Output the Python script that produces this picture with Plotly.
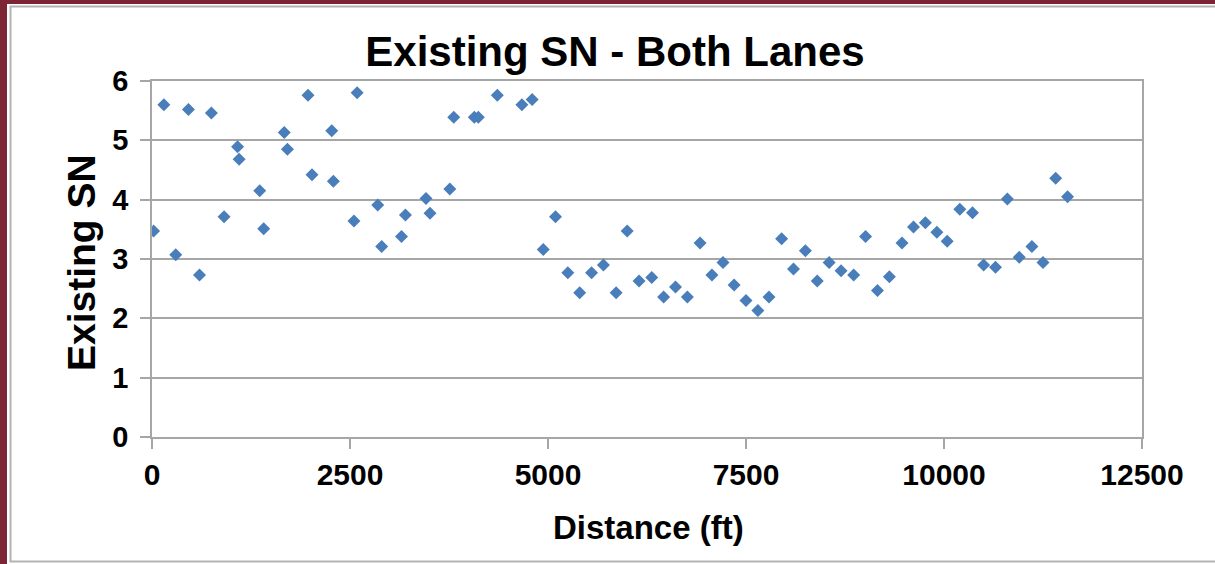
import plotly.graph_objects as go

# Distance (ft) and Existing SN values
distance_ft = [
    20, 150, 300, 460, 600, 750, 910, 1080, 1100, 1360, 1410, 1670, 1710,
    1970, 2020, 2270, 2290, 2550, 2590, 2850, 2900, 3150, 3200, 3460, 3510,
    3760, 3810, 4070, 4120, 4360, 4670, 4800, 4940, 5095,
    5250, 5400, 5550, 5700, 5860, 6000, 6150, 6310, 6460, 6610, 6760, 6920,
    7070, 7210, 7350, 7500, 7650, 7790, 7950, 8100, 8250, 8400, 8550, 8700,
    8860, 9010, 9160, 9310, 9470, 9615, 9765, 9910, 10040, 10200, 10360,
    10500, 10650, 10800, 10950, 11110, 11250, 11410, 11560,
]
existing_sn = [
    3.47, 5.60, 3.07, 5.52, 2.73, 5.46, 3.71, 4.89, 4.68, 4.15, 3.51, 5.13, 4.85,
    5.76, 4.42, 5.16, 4.31, 3.64, 5.80, 3.91, 3.21, 3.38, 3.74, 4.02, 3.77,
    4.18, 5.39, 5.39, 5.39, 5.76, 5.60, 5.69, 3.16, 3.71,
    2.77, 2.43, 2.77, 2.90, 2.43, 3.47, 2.63, 2.69, 2.36, 2.53, 2.36, 3.27,
    2.73, 2.94, 2.56, 2.30, 2.13, 2.36, 3.34, 2.83, 3.14, 2.63, 2.94, 2.80,
    2.73, 3.38, 2.47, 2.70, 3.27, 3.54, 3.61, 3.45, 3.30, 3.84, 3.78,
    2.90, 2.86, 4.01, 3.03, 3.21, 2.94, 4.36, 4.05,
]
x_ticks = [0, 2500, 5000, 7500, 10000, 12500]
y_ticks = [0, 1, 2, 3, 4, 5, 6]

chart_title = "Existing SN - Both Lanes"
x_title = "Distance (ft)"
y_title = "Existing SN"

FONT = "Liberation Sans, Arial, sans-serif"
GRID = "#a6a6a6"
W, H = 1215, 564
L, R, T, B = 152, 73, 81, 127
pw, ph = W - L - R, H - T - B


def px_x(p):
    return (p - L) / pw


def px_y(p):
    return (H - B - p) / ph


fig = go.Figure()
fig.add_trace(go.Scatter(
    x=distance_ft, y=existing_sn, mode="markers",
    marker=dict(symbol="diamond", size=10, color="#4A7EBB", line=dict(width=0)),
    showlegend=False, hoverinfo="x+y",
))

fig.update_layout(
    width=W, height=H,
    margin=dict(l=L, r=R, t=T, b=B, pad=0),
    paper_bgcolor="#7d2535",
    plot_bgcolor="white",
    font=dict(family=FONT, color="black"),
    title=dict(text="<b>%s</b>" % chart_title, x=615 / W, xref="container", xanchor="center",
               y=1 - 51 / H, yref="container", yanchor="middle",
               font=dict(size=42, family=FONT, color="black")),
    xaxis=dict(range=[0, 12500], tickvals=x_ticks, ticktext=["<b>%d</b>" % v for v in x_ticks],
               showgrid=False, zeroline=False, showline=True, linecolor=GRID, linewidth=1.5,
               mirror=True, ticks="outside", ticklen=10, tickcolor=GRID, tickwidth=1.5,
               tickfont=dict(size=30, family=FONT, color="black")),
    yaxis=dict(range=[0, 6], tickvals=y_ticks, ticktext=["<b>%d</b>" % v for v in y_ticks],
               showgrid=True, gridcolor=GRID, gridwidth=1.5, zeroline=False,
               showline=True, linecolor=GRID, linewidth=1.5, mirror=True,
               ticks="outside", ticklen=10, tickcolor=GRID, tickwidth=1.5,
               ticklabelstandoff=6,
               tickfont=dict(size=29, family=FONT, color="black")),
    shapes=[
        dict(type="rect", xref="paper", yref="paper", layer="below",
             x0=px_x(7), x1=px_x(W + 20), y0=px_y(H + 20), y1=px_y(4),
             fillcolor="white", line=dict(width=0)),
        dict(type="rect", xref="paper", yref="paper", layer="below",
             x0=px_x(10.5), x1=px_x(W + 20), y0=px_y(561.5), y1=px_y(6.5),
             fillcolor="white", line=dict(width=2, color="#b3b3b3")),
    ],
    annotations=[
        dict(text="<b>%s</b>" % x_title, xref="paper", yref="paper",
             x=px_x(648), y=px_y(527), xanchor="center", yanchor="middle",
             showarrow=False, font=dict(size=33, family=FONT, color="black")),
        dict(text="<b>%s</b>" % y_title, xref="paper", yref="paper", textangle=-90,
             x=px_x(81), y=px_y(263), xanchor="center", yanchor="middle",
             showarrow=False, font=dict(size=39, family=FONT, color="black")),
    ],
)

fig.write_html(
    "out.html",
    config={"displayModeBar": False},
    post_script="document.body.style.margin='0';document.body.style.overflow='hidden';",
)
